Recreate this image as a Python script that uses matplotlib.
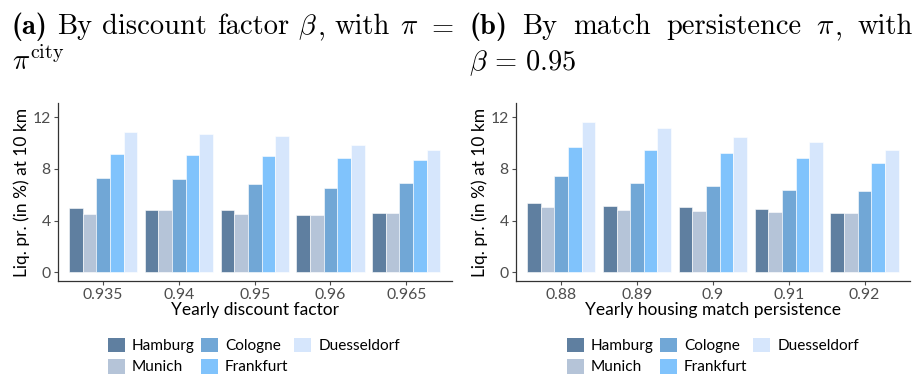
import matplotlib
matplotlib.use("Agg")
import matplotlib.pyplot as plt
import numpy as np
from matplotlib.patches import Patch

plt.rcParams['mathtext.fontset'] = 'cm'

cities = ["Hamburg", "Munich", "Cologne", "Frankfurt", "Duesseldorf"]
colors = ["#5f7fa0", "#b5c4d8", "#71a7d6", "#80c3fc", "#d6e6fc"]

beta_labels = ["0.935", "0.94", "0.95", "0.96", "0.965"]
beta_vals = {
    "Hamburg":     [4.95, 4.80, 4.83, 4.46, 4.62],
    "Munich":      [4.49, 4.80, 4.52, 4.46, 4.57],
    "Cologne":     [7.30, 7.20, 6.81, 6.55, 6.92],
    "Frankfurt":   [9.14, 9.06, 9.01, 8.83, 8.67],
    "Duesseldorf": [10.84, 10.68, 10.58, 9.83, 9.50],
}

pi_labels = ["0.88", "0.89", "0.9", "0.91", "0.92"]
pi_vals = {
    "Hamburg":     [5.37, 5.14, 5.03, 4.93, 4.57],
    "Munich":      [5.06, 4.83, 4.75, 4.70, 4.57],
    "Cologne":     [7.46, 6.94, 6.71, 6.37, 6.32],
    "Frankfurt":   [9.73, 9.50, 9.21, 8.85, 8.44],
    "Duesseldorf": [11.61, 11.15, 10.45, 10.09, 9.45],
}

W, H = 9.19, 3.76
fig = plt.figure(figsize=(W, H), dpi=100)
R = fig.canvas.get_renderer()

def fit_size(txt, family, target_px, base=12.0):
    t = fig.text(0, 0, txt, family=family, fontsize=base)
    w = t.get_window_extent(renderer=R).width
    t.remove()
    return base * target_px / w

tick_fs = fit_size("0.935", "Lato", 40)
xlab_fs = fit_size("Yearly discount factor", "Lato", 167)
ylab_fs = fit_size("Liq. pr. (in %) at 10 km", "Lato", 168)
leg_fs = fit_size("Hamburg", "Lato", 62.5)

def px_axes(x0, x1, ytop, ybot):
    return fig.add_axes([x0 / 919, 1 - ybot / 376, (x1 - x0) / 919, (ybot - ytop) / 376])

def draw_panel(ax, labels, vals, xlabel):
    n = len(cities)
    gw = 0.9
    bw = gw / n
    x = np.arange(len(labels))
    for i, c in enumerate(cities):
        ax.bar(x - gw / 2 + bw * (i + 0.5), vals[c], width=bw, color=colors[i],
               edgecolor="#ffffff", linewidth=0.4)
    ax.set_xlim(-0.6, len(labels) - 0.4)
    ax.set_ylim(-0.65, 13.08)
    ax.set_yticks([0, 4, 8, 12])
    ax.set_xticks(x)
    ax.set_xticklabels(labels)
    for s in ["top", "right"]:
        ax.spines[s].set_visible(False)
    for s in ["left", "bottom"]:
        ax.spines[s].set_color("#333333")
        ax.spines[s].set_linewidth(0.9)
    ax.tick_params(axis="both", colors="#4d4d4d", labelsize=tick_fs, length=3, width=0.8,
                   labelcolor="#4d4d4d")
    ax.tick_params(axis="y", pad=2)
    ax.tick_params(axis="x", length=3, pad=2)
    for t in ax.get_xticklabels() + ax.get_yticklabels():
        t.set_family("Lato")
    ax.set_xlabel(xlabel, family="Lato", fontsize=xlab_fs, color="black", labelpad=0)
    ax.set_ylabel("Liq. pr. (in %) at 10 km", family="Lato", fontsize=ylab_fs, color="black",
                  labelpad=1.5)
    handles = [Patch(facecolor=colors[i], edgecolor="none", label=c) for i, c in enumerate(cities)]
    return handles

ax1 = px_axes(57.7, 451.7, 103.3, 280.7)
h = draw_panel(ax1, beta_labels, beta_vals, "Yearly discount factor")
ax2 = px_axes(515.7, 910, 103.3, 280.7)
draw_panel(ax2, pi_labels, pi_vals, "Yearly housing match persistence")

em = leg_fs * 100 / 72
for cx in [254, 713]:
    fig.legend(handles=h, loc="center", bbox_to_anchor=(cx / 919, 1 - 356 / 376),
               ncol=3, frameon=False, prop={"family": "Lato", "size": leg_fs},
               handlelength=17 / em, handleheight=17 / em, handletextpad=7 / em,
               columnspacing=6 / em, labelspacing=0.35, borderaxespad=0, borderpad=0)

# titles
def measure(parts, fs):
    tot = 0
    for txt, fam in parts:
        t = fig.text(0, 0, txt, family=fam, fontsize=fs)
        tot += t.get_window_extent(renderer=R).width
        t.remove()
    return tot

def tline(x, y, parts, fs, target=None):
    nat = measure(parts, fs)
    gaps = [i for i, (txt, fam) in enumerate(parts) if txt == " "]
    extra = 0
    if target is not None and gaps:
        extra = (target - nat) / len(gaps)
    cur = x
    for txt, fam in parts:
        t = fig.text(cur / 919, 1 - y / 376, txt, family=fam, fontsize=fs, va="baseline", ha="left")
        w = t.get_window_extent(renderer=R).width
        cur += w
        if txt == " ":
            cur += extra

S = " "
def words(s, fam="cmr10"):
    out = []
    ws = s.split(" ")
    for i, w in enumerate(ws):
        if i:
            out.append((S, fam))
        out.append((w, fam))
    return out

line_a = [("(a)", "cmb10"), (S, "cmr10")] + words("By discount factor") + [(S, "cmr10"), (r"$\beta$", "cmr10"), (",", "cmr10"), (S, "cmr10"), ("with", "cmr10"), (S, "cmr10"), (r"$\pi$", "cmr10"), (S, "cmr10"), (r"$=$", "cmr10")]
line_b = [("(b)", "cmb10"), (S, "cmr10")] + words("By match persistence") + [(S, "cmr10"), (r"$\pi$", "cmr10"), (",", "cmr10"), (S, "cmr10"), ("with", "cmr10")]

title_fs = 20.5
tline(12, 34, line_a, title_fs, target=443)
tline(12, 70, [(r"$\pi^{\mathrm{city}}$", "cmr10")], title_fs)
tline(469, 34, line_b, title_fs, target=444)
tline(469, 70, [(r"$\beta\,=\,0.95$", "cmr10")], title_fs)

fig.savefig("out.png", dpi=100)
